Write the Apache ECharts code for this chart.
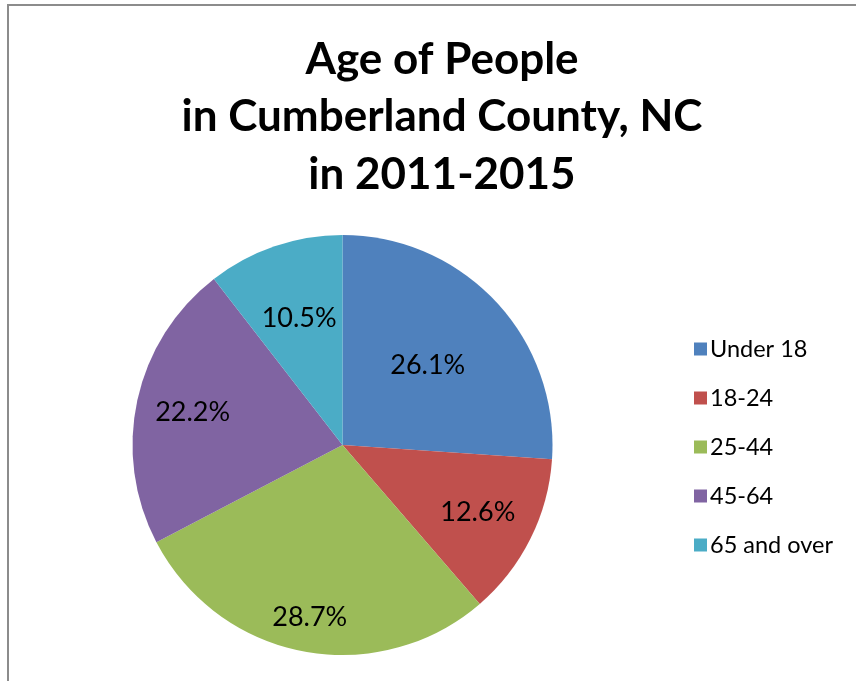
<!DOCTYPE html>
<html>
<head>
<meta charset="utf-8">
<script src="https://cdn.jsdelivr.net/npm/echarts@6/dist/echarts.min.js"></script>
<style>
  html, body { margin: 0; padding: 0; background: #fff; }
  #chart { width: 856px; height: 681px; }
</style>
</head>
<body>
<div id="chart"></div>
<script>
// Age groups and their share of the population (%)
const categories = ['Under 18', '18-24', '25-44', '45-64', '65 and over'];
const shares = [26.1, 12.6, 28.7, 22.2, 10.5];
const sliceColors = ['#4F81BD', '#C0504D', '#9BBB59', '#8064A2', '#4BACC6'];
// Radial placement of each percentage label as a fraction of the radius
const labelRadius = [0.54, 0.70, 0.81, 0.71, 0.62];

const CX = 342.5, CY = 445, R = 210;
const FONT = 'Lato, "Open Sans", sans-serif';

const chart = echarts.init(document.getElementById('chart'), null, { renderer: 'canvas' });

chart.setOption({
  animation: false,
  backgroundColor: '#ffffff',
  title: {
    text: 'Age of People\nin Cumberland County, NC\nin 2011-2015',
    left: 437,
    top: 26,
    textAlign: 'center',
    textStyle: {
      fontFamily: FONT,
      fontSize: 44,
      fontWeight: 'bold',
      color: '#000',
      lineHeight: 57.5,
      align: 'center'
    }
  },
  legend: {
    orient: 'vertical',
    left: 689,
    top: 332,
    itemWidth: 13,
    itemHeight: 13,
    itemGap: 25,
    icon: 'rect',
    selectedMode: false,
    textStyle: { fontFamily: FONT, fontSize: 23.5, color: '#000', lineHeight: 23, padding: [0, 0, 0, -2] },
    data: categories
  },
  graphic: [{
    type: 'rect',
    shape: { x: 8, y: 5, width: 900, height: 800 },
    style: { fill: 'none', stroke: '#8c8c8c', lineWidth: 2 },
    silent: true,
    z: 100
  }],
  series: [{
    type: 'pie',
    center: [CX, CY],
    radius: [0, R],
    startAngle: 90,
    clockwise: true,
    avoidLabelOverlap: false,
    data: categories.map((name, i) => ({
      name: name,
      value: shares[i],
      itemStyle: { color: sliceColors[i] }
    })),
    itemStyle: { borderWidth: 0 },
    label: {
      show: true,
      position: 'inside',
      formatter: (p) => p.value.toFixed(1) + '%',
      fontFamily: FONT,
      fontSize: 27,
      color: '#000'
    },
    labelLine: { show: false },
    labelLayout: function (params) {
      const r = params.labelRect;
      const lx = r.x + r.width / 2, ly = r.y + r.height / 2;
      const k = labelRadius[params.dataIndex] / 0.5 - 1;
      return { dx: (lx - CX) * k, dy: (ly - CY) * k };
    },
    emphasis: { disabled: true }
  }]
});
</script>
</body>
</html>
